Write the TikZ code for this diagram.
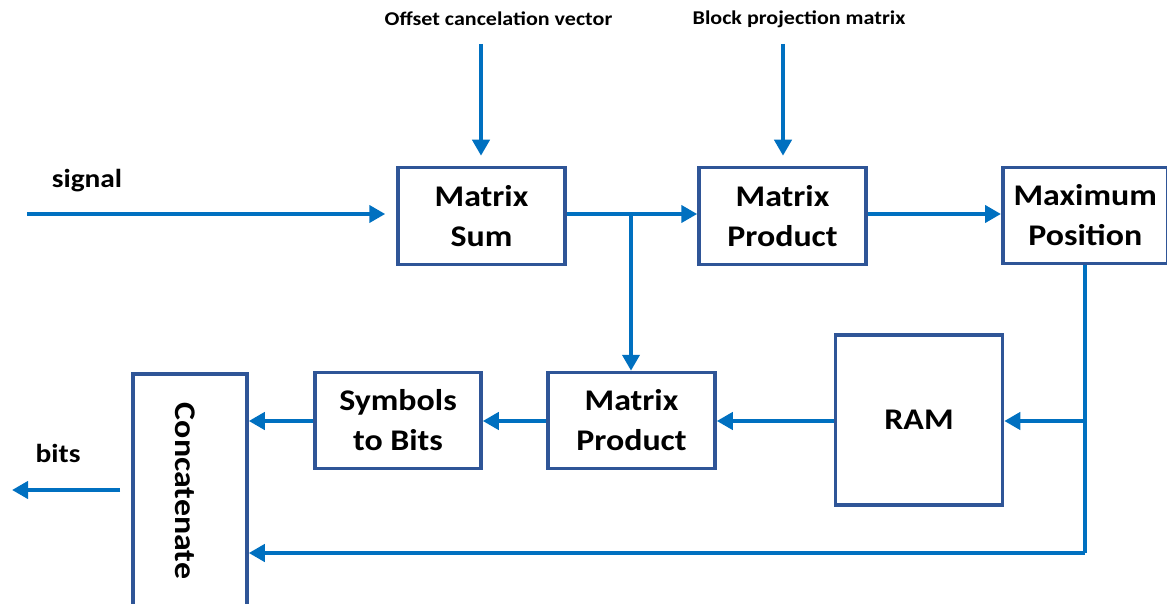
\documentclass[tikz,border=0pt]{standalone}
\usepackage{fontspec}
\setmainfont{Carlito}[FakeStretch=1.13]
\usetikzlibrary{arrows.meta}
\definecolor{boxblue}{HTML}{2F5597}
\definecolor{wireblue}{HTML}{0070C0}
\tikzset{
  blk/.style={draw=boxblue, line width=3.5pt, fill=white, align=center,
    font=\bfseries\fontsize{30}{40}\selectfont, inner sep=0pt},
  wire/.style={draw=wireblue, line width=4.6pt},
  arr/.style={wire, -{Triangle[length=16pt,width=17pt]}},
  lbl/.style={font=\bfseries\fontsize{19.5}{22}\selectfont, inner sep=0pt},
  sidelbl/.style={font=\bfseries\fontsize{26}{30}\selectfont, inner sep=0pt}
}
\begin{document}
\begin{tikzpicture}[x=1pt,y=-1pt]
\useasboundingbox (0,0) rectangle (1167,604);
% processing blocks
\node[blk, minimum width=167pt, minimum height=97pt] (msum) at (481.5,216) {Matrix\\Sum};
\node[blk, minimum width=167pt, minimum height=97pt] (mprod1) at (782.5,216) {Matrix\\Product};
\node[blk, minimum width=165pt, minimum height=96pt, anchor=west] (maxpos) at (1001,215.5) {Maximum\\Position};
\node[blk, minimum width=167pt, minimum height=170pt] (ram) at (919,420) {RAM};
\node[blk, minimum width=167pt, minimum height=96pt] (mprod2) at (631.5,420.5) {Matrix\\Product};
\node[blk, minimum width=166pt, minimum height=96pt] (s2b) at (398,420.5) {Symbols\\to Bits};
\node[blk, minimum width=114pt, minimum height=250pt, anchor=north] (concat) at (190,372) {};
\node[font=\bfseries\fontsize{30}{40}\selectfont, rotate=-90, inner sep=0pt] (concattext) at (185,491) {Concatenate};
% inputs and labels
\node[lbl] (loff) at (498.5,19) {Offset cancelation vector};
\node[lbl] (lblk) at (799,19) {Block projection matrix};
\node[sidelbl] (lsig) at (87,181) {signal};
\node[sidelbl] (lbits) at (58,453) {bits};
\coordinate (sigin) at (27,214);
\coordinate (offin) at (481,44);
\coordinate (blkin) at (783,44);
\coordinate (bitsout) at (12,490);
\coordinate (split) at (631,214);
\coordinate (fb) at (1085,421);
\coordinate (fbcorner) at (1085,553);
% connectors (the three outside inputs stop short of their blocks)
\draw[arr, shorten >=11pt] (sigin) -- (sigin -| msum.west);
\draw[arr, shorten >=10pt] (offin) -- (offin |- msum.north);
\draw[arr, shorten >=10pt] (blkin) -- (blkin |- mprod1.north);
\draw[arr] (split -| msum.east) -- (split -| mprod1.west);
\draw[arr] (split) -- (split |- mprod2.north);
\draw[arr] (mprod1.east |- split) -- (split -| maxpos.west);
\draw[wire] (maxpos.south -| fb) -- (fbcorner);
\draw[arr] (fb) -- (fb -| ram.east);
\draw[arr] (fbcorner) -- (fbcorner -| concat.east);
\draw[arr] (ram.west |- fb) -- (fb -| mprod2.east);
\draw[arr] (mprod2.west |- fb) -- (fb -| s2b.east);
\draw[arr] (s2b.west |- fb) -- (fb -| concat.east);
\draw[arr] (bitsout -| 120,0) -- (bitsout);
\end{tikzpicture}
\end{document}
